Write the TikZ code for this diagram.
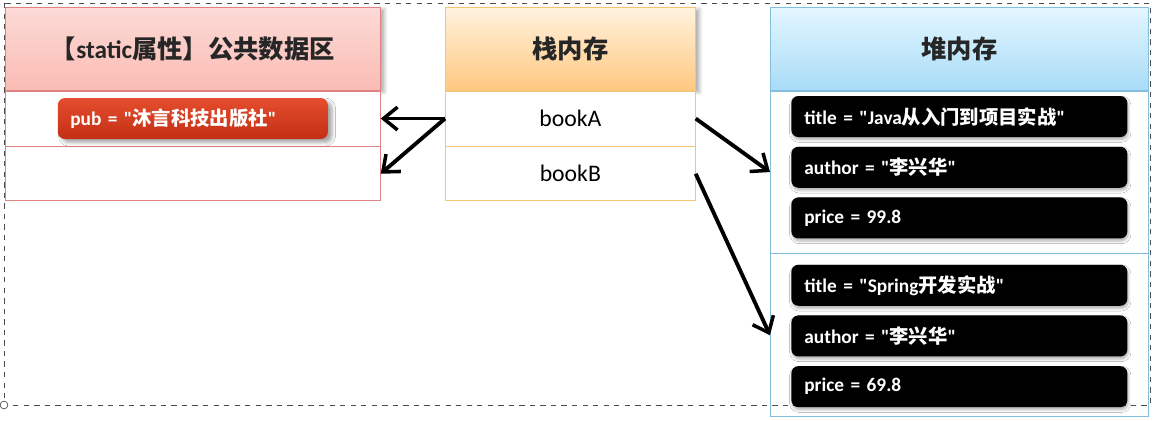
\documentclass[tikz,border=0pt]{standalone}
\usepackage{fontspec}
\setmainfont{Carlito}[Ligatures=TeXOff]
\newfontfamily\cjk{Noto Sans CJK SC}[Ligatures=TeXOff]
\usepackage{xcolor}
\usetikzlibrary{arrows.meta, positioning, shadows.blur}

\definecolor{pinkTop}{RGB}{252,218,214}
\definecolor{pinkBot}{RGB}{250,188,180}
\definecolor{pinkLine}{RGB}{222,130,130}
\definecolor{orgTop}{RGB}{255,242,222}
\definecolor{orgBot}{RGB}{255,200,128}
\definecolor{orgLine}{RGB}{244,196,120}
\definecolor{bluTop}{RGB}{228,246,255}
\definecolor{bluBot}{RGB}{168,220,248}
\definecolor{bluLine}{RGB}{130,190,222}
\definecolor{pubTop}{RGB}{228,78,46}
\definecolor{pubBot}{RGB}{196,46,20}

\begin{document}
\begin{tikzpicture}[
            hdr/.style={draw, rectangle, anchor=north west, minimum height=1.66cm, font=\cjk\Large\bfseries, text=black!85},
            cell/.style={draw, rectangle, fill=white, anchor=north, font=\fontsize{13.5}{16}\selectfont},
            valbox/.style={rectangle, rounded corners=4pt, fill=black, text=white, minimum width=6.72cm, minimum height=0.82cm, text width=6.2cm, align=left, font=\fontsize{11}{13}\selectfont\bfseries, blur shadow={shadow blur steps=4, shadow blur radius=1.5pt, shadow xshift=0.5pt, shadow yshift=-1.5pt, shadow opacity=30}},
            pubbox/.style={rectangle, rounded corners=4pt, top color=pubTop, bottom color=pubBot, text=white, minimum width=5.4cm, minimum height=0.82cm, text width=4.9cm, align=left, font=\fontsize{11}{13}\selectfont\bfseries, blur shadow={shadow blur steps=4, shadow blur radius=2pt, shadow yshift=-2pt, shadow opacity=35}},
            arrow/.style={-{Straight Barb[length=8pt, width=13pt, line width=2pt]}, line width=2.2pt, draw=black}
        ]
        \useasboundingbox (0,0) rectangle (23.16,-8.4);

        % --- static area ---
        \node[hdr, top color=pinkTop, bottom color=pinkBot, draw=pinkLine, minimum width=7.5cm, blur shadow={shadow blur steps=4, shadow yshift=-1pt, shadow opacity=30}] (sthead) at (0.1,-0.14) {【{\fontspec{Carlito}[Ligatures=TeXOff]\bfseries static}属性】公共数据区};
        \node[cell, draw=pinkLine, minimum width=7.5cm, minimum height=1.1cm] (strow1) at (sthead.south) {};
        \node[cell, draw=pinkLine, minimum width=7.5cm, minimum height=1.08cm] (strow2) at (strow1.south) {};
        \node[pubbox] (pub) at (strow1.center) {pub = "{\cjk 沐言科技出版社}"};

        % --- stack ---
        \node[hdr, top color=orgTop, bottom color=orgBot, draw=orgLine, minimum width=5cm, blur shadow={shadow blur steps=4, shadow yshift=-1pt, shadow opacity=30}] (skhead) at (8.9,-0.14) {栈内存};
        \node[cell, draw=orgLine, minimum width=5cm, minimum height=1.1cm] (bookA) at (skhead.south) {bookA};
        \node[cell, draw=orgLine, minimum width=5cm, minimum height=1.08cm] (bookB) at (bookA.south) {bookB};

        % --- heap ---
        \node[hdr, top color=bluTop, bottom color=bluBot, draw=bluLine, minimum width=7.56cm] (hphead) at (15.4,-0.14) {堆内存};
        \node[cell, draw=bluLine, minimum width=7.56cm, minimum height=3.24cm] (obj1) at (hphead.south) {};
        \node[cell, draw=bluLine, minimum width=7.56cm, minimum height=3.26cm] (obj2) at (obj1.south) {};

        % selection frame
        \draw[dashed, draw=black!70] (0.08,-0.06) rectangle (23.0,-8.1);
        \draw[black!70, fill=white] (0.08,-8.1) circle (2.2pt);

        \node[valbox, below=0.1cm of obj1.north] (t1) {title = "Java{\cjk 从入门到项目实战}"};
        \node[valbox, below=0.18cm of t1] (a1) {author = "{\cjk 李兴华}"};
        \node[valbox, below=0.18cm of a1] (p1) {price = 99.8};
        \node[valbox, below=0.22cm of obj2.north] (t2) {title = "Spring{\cjk 开发实战}"};
        \node[valbox, below=0.18cm of t2] (a2) {author = "{\cjk 李兴华}"};
        \node[valbox, below=0.18cm of a2] (p2) {price = 69.8};

        % references
        \draw[arrow] (bookA.west) -- (strow1.east);
        \draw[arrow] (bookA.west) -- (strow2.east);
        \draw[arrow] (bookA.east) -- (obj1.west);
        \draw[arrow] (bookB.east) -- (obj2.west);

    \end{tikzpicture}
\end{document}
